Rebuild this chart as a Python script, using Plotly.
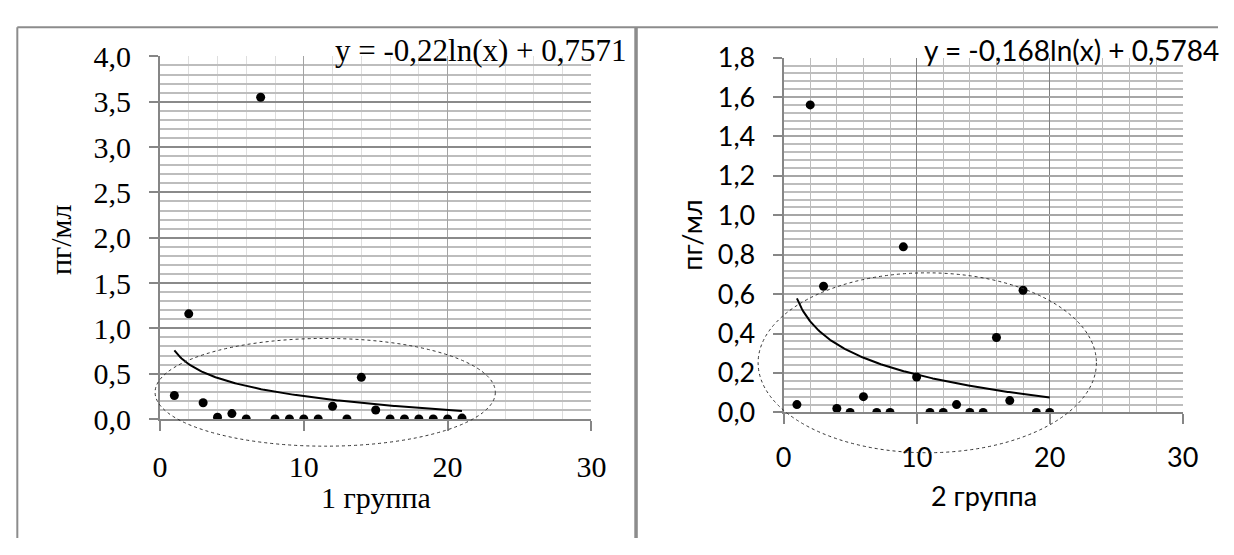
import numpy as np
import plotly.graph_objects as go

# ---------------- data ----------------
g1_x = list(range(1, 22))
g1_y = [0.26, 1.16, 0.18, 0.02, 0.06, 0.0, 3.55, 0.0, 0.0, 0.0, 0.0,
        0.14, 0.0, 0.46, 0.10, 0.0, 0.0, 0.0, 0.0, 0.0, 0.01]
g2_x = list(range(1, 21))
g2_y = [0.04, 1.56, 0.64, 0.02, 0.0, 0.08, 0.0, 0.0, 0.84, 0.18,
        0.0, 0.0, 0.04, 0.0, 0.0, 0.38, 0.06, 0.62, 0.0, 0.0]
g1_eq = "y = -0,22ln(x) + 0,7571"
g2_eq = "y = -0,168ln(x) + 0,5784"
g1_title = "1 группа"
g2_title = "2 группа"
y_title = "пг/мл"
x_ticks = [0, 10, 20, 30]
g1_yticks = [0, 0.5, 1, 1.5, 2, 2.5, 3, 3.5, 4]
g2_yticks = [0, 0.2, 0.4, 0.6, 0.8, 1.0, 1.2, 1.4, 1.6, 1.8]

W, H = 1234, 555
def PX(p): return p / W
def PY(p): return 1 - p / H

SERIF = "Liberation Serif"
SANS = "Lato"

def log_fit(xs, ys):
    xs = np.asarray(xs, float); ys = np.asarray(ys, float)
    a, b = np.polyfit(np.log(xs), ys, 1)
    xx = np.linspace(xs.min(), xs.max(), 200)
    return xx, a * np.log(xx) + b

fig = go.Figure()

# group 1
fig.add_trace(go.Scatter(x=g1_x, y=g1_y, mode="markers", xaxis="x", yaxis="y",
                         marker=dict(color="black", size=9), showlegend=False))
tx, ty = log_fit(g1_x, g1_y)
fig.add_trace(go.Scatter(x=tx, y=ty, mode="lines", xaxis="x", yaxis="y",
                         line=dict(color="black", width=2), showlegend=False))
# group 2
fig.add_trace(go.Scatter(x=g2_x, y=g2_y, mode="markers", xaxis="x2", yaxis="y2",
                         marker=dict(color="black", size=9), showlegend=False))
tx2, ty2 = log_fit(g2_x, g2_y)
fig.add_trace(go.Scatter(x=tx2, y=ty2, mode="lines", xaxis="x2", yaxis="y2",
                         line=dict(color="black", width=2), showlegend=False))

AX = "#868686"

def xaxis(domain, anchor, font, vminor, vmajor):
    return dict(domain=domain, anchor=anchor, range=[0, 30], tickvals=x_ticks,
                showline=True, linecolor=AX, linewidth=2,
                ticks="outside", ticklen=10, tickcolor=AX, tickwidth=2,
                showgrid=True, gridcolor=vmajor, gridwidth=1.3,
                minor=dict(dtick=2, showgrid=True, gridcolor=vminor, gridwidth=1.3),
                zeroline=False, tickfont=font, ticklabelstandoff=10, fixedrange=True)

def yaxis(domain, anchor, rng, vals, mdt, font, hminor, hmajor):
    return dict(domain=domain, anchor=anchor, range=rng, tickvals=vals, tickformat=".1f",
                showline=True, linecolor=AX, linewidth=2,
                ticks="outside", ticklen=9, tickcolor=AX, tickwidth=2,
                showgrid=True, gridcolor=hmajor, gridwidth=1.5,
                minor=dict(dtick=mdt, showgrid=True, gridcolor=hminor, gridwidth=1.5),
                zeroline=False, tickfont=font, ticklabelstandoff=12, fixedrange=True)

f1 = dict(family=SERIF, size=30, color="black")
f2 = dict(family=SANS, size=27, color="black")

fig.update_layout(
    width=W, height=H, margin=dict(l=0, r=0, t=0, b=0),
    paper_bgcolor="white", plot_bgcolor="white",
    separators=", ",
    xaxis=xaxis([PX(155), PX(595)], "y", f1, "#dedede", "#a3a3a3"),
    yaxis=yaxis([PY(428), PY(41)], "x", [0, 4], g1_yticks, 0.1, f1, "#bdbdbd", "#8a8a8a"),
    xaxis2=xaxis([PX(791), PX(1198)], "y2", f2, "#bdbdbd", "#7f7f7f"),
    yaxis2=yaxis([PY(421), PY(42.3)], "x2", [0, 1.8], g2_yticks, 0.04, f2, "#bdbdbd", "#a6a6a6"),
)

ann = [
    dict(text=g1_eq, x=PX(331), y=PY(35), xanchor="left", yanchor="middle", font=dict(family=SERIF, size=31, color="black")),
    dict(text=g2_eq, x=PX(932), y=PY(34), xanchor="left", yanchor="middle", font=dict(family=SANS, size=28, color="black")),
    dict(text=g1_title, x=PX(375), y=PY(512), xanchor="center", yanchor="middle", font=f1),
    dict(text=g2_title, x=PX(995), y=PY(510), xanchor="center", yanchor="middle", font=f2),
    dict(text=y_title, x=PX(53), y=PY(236), xanchor="center", yanchor="middle", textangle=-90, font=f1),
    dict(text=y_title, x=PX(697), y=PY(232), xanchor="center", yanchor="middle", textangle=-90, font=f2),
]
for a in ann:
    a.update(xref="paper", yref="paper", showarrow=False)
fig.update_layout(annotations=ann)

border = "#8c8c8c"
shapes = [
    dict(type="line", x0=PX(9.5), x1=1, y0=PY(10), y1=PY(10), line=dict(color=border, width=2)),
    dict(type="line", x0=PX(9.5), x1=PX(9.5), y0=PY(10), y1=0, line=dict(color=border, width=2)),
    dict(type="line", x0=PX(640.5), x1=PX(640.5), y0=PY(10), y1=0, line=dict(color=border, width=3.5)),
    dict(type="circle", x0=PX(150), x1=PX(497), y0=PY(342), y1=PY(457),
         line=dict(color="#333333", width=1, dash="dot")),
    dict(type="circle", x0=PX(765), x1=PX(1110), y0=PY(272), y1=PY(464),
         line=dict(color="#333333", width=1, dash="dot")),
]
for s in shapes:
    s.update(xref="paper", yref="paper")
fig.update_layout(shapes=shapes)

fig.write_html("out.html")
